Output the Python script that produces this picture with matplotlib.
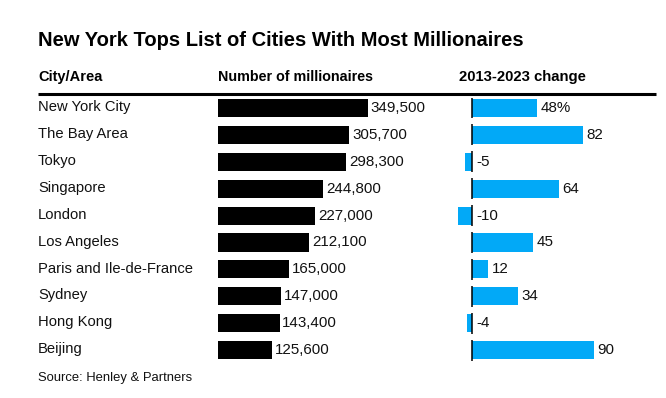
import matplotlib
matplotlib.use("Agg")
import matplotlib.pyplot as plt
from matplotlib.lines import Line2D

cities = ["New York City", "The Bay Area", "Tokyo", "Singapore", "London",
          "Los Angeles", "Paris and Ile-de-France", "Sydney", "Hong Kong", "Beijing"]
millionaires = [349500, 305700, 298300, 244800, 227000, 212100, 165000, 147000, 143400, 125600]
change = [48, 82, -5, 64, -10, 45, 12, 34, -4, 90]

title = "New York Tops List of Cities With Most Millionaires"
headers = ["City/Area", "Number of millionaires", "2013-2023 change"]
source = "Source: Henley & Partners"

W, H = 666, 398
FONT = "Liberation Sans"
plt.rcParams["font.family"] = [FONT, "DejaVu Sans"]
BLUE = "#02a9f7"
TXT = "#111111"

fig = plt.figure(figsize=(W / 100, H / 100), dpi=100)

def fx(px):
    return px / W

def fy(py):
    return 1 - py / H

row0 = 108.0
step = 26.9
n = len(cities)
top = row0 - step / 2
bot = row0 + (n - 0.5) * step

# Number of millionaires axis
x1l, x1r = 218, 440
ax1 = fig.add_axes([fx(x1l), fy(bot), fx(x1r - x1l), (bot - top) / H])
pxper1 = 150 / 349500
ax1.set_xlim(0, (x1r - x1l) / pxper1)
ax1.set_ylim(n - 0.5, -0.5)
ax1.barh(range(n), millionaires, height=0.67, color="black")
for i, v in enumerate(millionaires):
    ax1.annotate(f"{v:,}", (v, i), xytext=(2.0, 0), textcoords="offset points",
                 va="center", ha="left", fontsize=10.9, color=TXT)
ax1.axis("off")

# Change axis
x2l, x2r, x0 = 440, 656, 472
pxper2 = 1.358
ax2 = fig.add_axes([fx(x2l), fy(bot), fx(x2r - x2l), (bot - top) / H])
ax2.set_xlim((x2l - x0) / pxper2, (x2r - x0) / pxper2)
ax2.set_ylim(n - 0.5, -0.5)
ax2.barh(range(n), change, height=0.67, color=BLUE)
ax2.vlines([0] * n, [i - 0.39 for i in range(n)], [i + 0.39 for i in range(n)],
           color="black", lw=1.1)
for i, v in enumerate(change):
    lab = f"{v}%" if i == 0 else f"{v}"
    xpos = max(v, 0)
    ax2.annotate(lab, (xpos, i), xytext=(2.5 if v > 0 else 3.3, 0), textcoords="offset points",
                 va="center", ha="left", fontsize=10.9, color=TXT)
ax2.axis("off")

# City labels
ax0 = fig.add_axes([fx(38), fy(bot), fx(180 - 38), (bot - top) / H])
ax0.set_xlim(0, 1)
ax0.set_ylim(n - 0.5, -0.5)
for i, c in enumerate(cities):
    ax0.text(0, i - 0.03, c, va="center", ha="left", fontsize=10.6, color=TXT)
ax0.axis("off")

# Title, headers, rule, source
fig.text(fx(38), fy(40), title, fontsize=14.5, fontweight="bold", va="center", ha="left", color="black")
for hx, h, fs in zip([38, 218, 459], headers, [10.5, 10.3, 10.7]):
    fig.text(fx(hx), fy(77), h, fontsize=fs, fontweight="bold", va="center", ha="left", color="black")
fig.add_artist(Line2D([fx(38), fx(656)], [fy(93.5), fy(93.5)], color="black", lw=2.2,
                      solid_capstyle="butt"))
fig.text(fx(38), fy(378), source, fontsize=9.4, va="center", ha="left", color=TXT)

fig.savefig("out.png", dpi=100, facecolor="white")
